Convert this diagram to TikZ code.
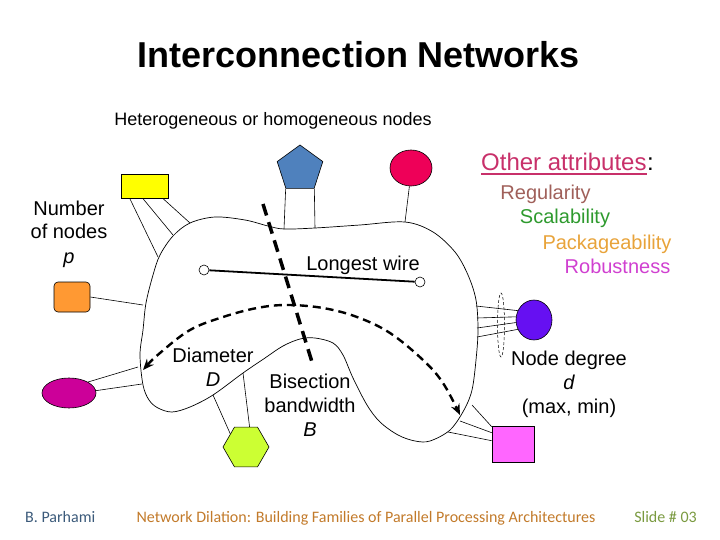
\documentclass[tikz,border=0pt]{standalone}
\usepackage{fontspec}
\setmainfont{Liberation Sans}
\newfontfamily\footfont{Carlito}
\usetikzlibrary{shapes.geometric,arrows.meta,calc}
\definecolor{cyel}{HTML}{FFFF00}
\definecolor{cblue}{HTML}{4F81BD}
\definecolor{cred}{HTML}{EE0058}
\definecolor{cgreen}{HTML}{CCFF33}
\definecolor{cmag}{HTML}{CC0099}
\definecolor{corange}{HTML}{FF9933}
\definecolor{cpurple}{HTML}{6610F2}
\definecolor{cpink}{HTML}{FF66FF}
\definecolor{cattr}{HTML}{C8306A}
\definecolor{creg}{HTML}{A0605A}
\definecolor{cscal}{HTML}{2E9A2E}
\definecolor{cpack}{HTML}{E8A33A}
\definecolor{crob}{HTML}{D040D0}
\definecolor{cfa}{HTML}{3B5A7A}
\definecolor{cfb}{HTML}{C27A2A}
\definecolor{cfc}{HTML}{7A9A40}
\begin{document}
\begin{tikzpicture}[x=1pt,y=-1pt,
  shp/.style={draw=black,line width=0.6pt,inner sep=0pt},
  wire/.style={line width=0.6pt},
  lbl/.style={font=\fontsize{20}{24}\selectfont,anchor=base,inner sep=0pt},
  foot/.style={font=\footfont\fontsize{16}{18}\selectfont,anchor=base,inner sep=0pt},
  port/.style={circle,draw=black,fill=white,line width=0.6pt,minimum size=10pt,inner sep=0pt}]
\useasboundingbox (0,0) rectangle (720,540);

% titles
\node[anchor=base,inner sep=0pt,font=\bfseries\fontsize{36}{42}\selectfont] (title) at (359,68) {Interconnection Networks};
\node[anchor=base,inner sep=0pt,font=\fontsize{18}{21}\selectfont] (het) at (273,126) {Heterogeneous or homogeneous nodes};

% blob
\draw[line width=0.7pt] plot[smooth cycle,tension=0.55] coordinates {
 (140,355) (143,330) (146,303) (153,275) (160,255) (173,236) (190,223)
 (215,217) (245,220) (268,226) (284,229) (315,228) (360,225) (405,222)
 (433,232) (455,252) (468,275) (476,300) (478,330) (476,360) (472,390)
 (464,410) (450,430) (430,441) (415,441) (398,435) (380,422) (367,405)
 (353,378) (343,355) (333,343) (315,338) (300,339) (283,346) (265,358)
 (243,373) (213,395) (190,407) (172,412) (158,408) (149,400) (143,385)};

% attach points on blob
\coordinate (b1) at (158,257); \coordinate (b2) at (173,235); \coordinate (b3) at (190,223);
\coordinate (p1) at (284,229); \coordinate (p2) at (315,228);
\coordinate (r1) at (405,222);
\coordinate (o1) at (143,305);
\coordinate (m1) at (138,367); \coordinate (m2) at (142,384);
\coordinate (h1) at (213,395); \coordinate (h2) at (243,373);
\coordinate (q1) at (476,306); \coordinate (q2) at (477,318); \coordinate (q3) at (477,328); \coordinate (q4) at (477,337);
\coordinate (k1) at (472,405); \coordinate (k2) at (460,421); \coordinate (k3) at (448,432);

% processor nodes
\node[shp,rectangle,fill=cyel,minimum width=47pt,minimum height=24pt] (yel) at (144.5,186) {};
\node[shp,regular polygon,regular polygon sides=5,fill=cblue,minimum size=48pt] (pent) at (300,169) {};
\node[shp,ellipse,fill=cred,minimum width=42pt,minimum height=36pt] (red) at (411,168) {};
\node[shp,rectangle,rounded corners=4pt,fill=corange,minimum width=36pt,minimum height=30pt] (org) at (72,297) {};
\node[shp,ellipse,fill=cmag,minimum width=54pt,minimum height=30pt] (mag) at (69,393) {};
\node[shp,regular polygon,regular polygon sides=6,fill=cgreen,minimum size=46pt] (hex) at (246,447) {};
\node[shp,ellipse,fill=cpurple,minimum width=36pt,minimum height=40pt] (pur) at (534,320) {};
\node[shp,rectangle,fill=cpink,minimum width=42pt,minimum height=36pt] (pink) at (513,444) {};

% links
\draw[wire] ([xshift=9pt]yel.south west) -- (b1);
\draw[wire] ([xshift=22pt]yel.south west) -- (b2);
\draw[wire] ([xshift=42pt]yel.south west) -- (b3);
\draw[wire] (pent.corner 3) -- (p1);
\draw[wire] (pent.corner 4) -- (p2);
\draw[wire] (red.265) -- (r1);
\draw[wire] (org.east) -- (o1);
\draw[wire] (mag.30) -- (m1);
\draw[wire] (mag.5) -- (m2);
\draw[wire] (hex.140) -- (h1);
\draw[wire] (hex.80) -- (h2);
\draw[wire] (pur.150) -- (q1);
\draw[wire] (pur.170) -- (q2);
\draw[wire] (pur.188) -- (q3);
\draw[wire] (pur.210) -- (q4);
\draw[wire] ([yshift=-1pt]pink.north west) -- (k1);
\draw[wire] ([yshift=-7pt]pink.north west) -- (k2);
\draw[wire] ([yshift=-15pt]pink.north west) -- (k3);

% node degree dashed ellipse
\draw[line width=0.5pt,dash pattern=on 3pt off 2pt] (501,325) ellipse [x radius=3.5pt,y radius=32pt];

% longest wire
\node[port] (w1) at (204,270) {};
\node[port] (w2) at (420,282) {};
\draw[line width=1.8pt] (w1) -- (w2);

% bisection cut
\coordinate (bisA) at (263,204);
\coordinate (bisB) at (312,362);
\draw[line width=3.5pt,dash pattern=on 12pt off 7pt] (bisA) -- (bisB);

% diameter
\draw[line width=2.4pt,dash pattern=on 8pt off 5pt,{Stealth[length=11pt,width=9pt]}-{Stealth[length=11pt,width=9pt]}]
 plot[smooth,tension=0.6] coordinates {(143,370) (160,353) (190,330) (223,317) (257,308) (287,305) (323,308) (357,317) (390,333) (423,360) (443,383) (460,415)};

% labels
\node[lbl] (numA) at (69,215) {Number};
\node[lbl] (numB) at (69,239) {of nodes};
\node[lbl] (numC) at (69,263) {\itshape p};
\node[lbl] (lw) at (363,270) {Longest wire};
\node[lbl] (diaA) at (213,362) {Diameter};
\node[lbl] (diaB) at (213,386) {\itshape D};
\node[lbl] (bisL1) at (310,388) {Bisection};
\node[lbl] (bisL2) at (310,412) {bandwidth};
\node[lbl] (bisL3) at (310,436) {\itshape B};
\node[lbl] (ndA) at (569,365) {Node degree};
\node[lbl] (ndB) at (569,389) {\itshape d};
\node[lbl] (ndC) at (569,413) {(max, min)};

\node[anchor=base west,inner sep=0pt,font=\fontsize{24}{27}\selectfont,text=cattr] (oa) at (481,171) {Other attributes};
\node[anchor=base west,inner sep=0pt,font=\fontsize{24}{27}\selectfont] (oacol) at (oa.base east) {:};
\draw[cattr,line width=1.6pt] ([yshift=-3pt]oa.base west) -- ([yshift=-3pt]oa.base east);
\node[lbl,text=creg] (reg) at (545.5,200) {Regularity};
\node[lbl,text=cscal] (scal) at (565,224) {Scalability};
\node[lbl,text=cpack] (pack) at (607,249) {Packageability};
\node[lbl,text=crob] (rob) at (617.5,273) {Robustness};

% footer
\node[foot,anchor=base west,text=cfa] (fa) at (25,522) {B. Parhami};
\node[foot,text=cfb] (fb) at (366,522) {Network Dilation: Building Families of Parallel Processing Architectures};
\node[foot,anchor=base east,text=cfc] (fc) at (697,522) {Slide \# 03};
\end{tikzpicture}
\end{document}
